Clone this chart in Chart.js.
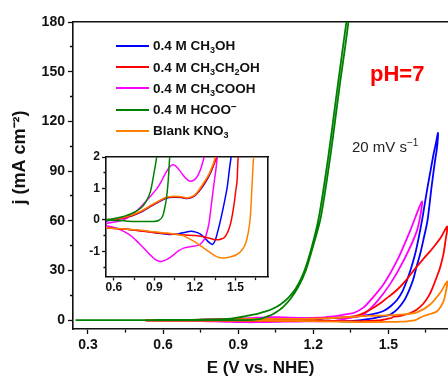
<!DOCTYPE html>
<html>
<head>
<meta charset="utf-8">
<title>CV at pH 7</title>
<script src="https://cdn.jsdelivr.net/npm/chart.js@4.4.1/dist/chart.umd.min.js"></script>
<style>
  html, body { margin: 0; padding: 0; background: #fff; overflow: hidden; }
  body { font-family: "Liberation Sans", Arial, sans-serif; }
  #wrap { position: relative; width: 448px; height: 377px; }
  #main { position: absolute; left: 0; top: 0; }
  #inset { position: absolute; left: 80px; top: 148px; }
  #legend { position: absolute; left: 116px; top: 35.4px; font-size: 13.5px; font-weight: bold; color: #111; }
  #legend .row { height: 21.2px; display: flex; align-items: center; white-space: nowrap; }
  #legend .swatch { width: 33px; height: 2px; margin-right: 4px; }
  #legend sub { font-size: 9px; line-height: 0; vertical-align: -3px; }
  #legend sup { font-size: 10px; line-height: 0; vertical-align: 4px; }
  #ph { position: absolute; left: 370px; top: 62.6px; font-size: 22px; line-height: 22px; font-weight: bold; color: #ff0000; }
  #rate { position: absolute; left: 352px; top: 139.4px; font-size: 15px; line-height: 15px; color: #222; }
  #rate sup { font-size: 10px; line-height: 0; vertical-align: 6px; }
</style>
</head>
<body>
<div id="wrap">
  <canvas id="main" width="448" height="377"></canvas>
  <canvas id="inset" width="195" height="150"></canvas>
  <div id="legend"></div>
  <div id="ph">pH=7</div>
  <div id="rate">20 mV s<sup>&minus;1</sup></div>
</div>
<script>
// potential E (V vs. NHE) and current density j (mA cm-2) read off the CVs,
// forward sweep up to the vertex first, then the return sweep

// 0.4 M CH3OH
const meohE = [0.53, 0.60, 0.67, 0.74, 0.80, 0.86, 0.926, 0.987, 1.048, 1.10, 1.146, 1.20, 1.243, 1.275, 1.304, 1.33, 1.355, 1.38, 1.416, 1.45, 1.482, 1.51, 1.535, 1.555, 1.574, 1.59, 1.607, 1.62, 1.634, 1.645, 1.656, 1.668, 1.68, 1.69, 1.698,
  1.694, 1.686, 1.672, 1.656, 1.642, 1.627, 1.612, 1.598, 1.58, 1.561, 1.535, 1.508, 1.49, 1.468, 1.455, 1.439, 1.415, 1.39, 1.37, 1.35, 1.33, 1.30, 1.268, 1.24, 1.20, 1.17, 1.13, 1.08, 1.0, 0.93, 0.85, 0.75, 0.65, 0.53];
const meohJ = [-0.04, 0.0, 0.05, 0.14, 0.25, 0.40, 0.56, 0.69, 0.72, 0.71, 0.68, 0.77, 0.98, 1.18, 1.4, 1.65, 2.0, 2.3, 2.9, 4.0, 5.6, 8.5, 12.3, 17, 24, 31, 40, 49, 60, 70, 80, 90, 100, 107, 113,
  104, 96, 80, 60, 50, 40, 32, 24, 17, 11.3, 6.5, 3.4, 2.6, 2.0, 1.6, 1.04, 0.5, 0.0, -0.35, -0.65, -0.78, -0.7, -0.55, -0.45, -0.38, -0.36, -0.39, -0.44, -0.46, -0.42, -0.37, -0.32, -0.28, -0.25];

// 0.4 M CH3CH2OH
const etohE = [0.53, 0.60, 0.67, 0.74, 0.80, 0.86, 0.926, 0.987, 1.048, 1.10, 1.146, 1.20, 1.243, 1.275, 1.304, 1.33, 1.36, 1.39, 1.43, 1.469, 1.50, 1.535, 1.57, 1.601, 1.64, 1.68, 1.71, 1.735,
  1.728, 1.72, 1.705, 1.693, 1.675, 1.66, 1.64, 1.614, 1.58, 1.548, 1.53, 1.52, 1.512, 1.50, 1.487, 1.47, 1.455, 1.439, 1.42, 1.40, 1.375, 1.34, 1.28, 1.2, 1.1, 1.0, 0.9, 0.8, 0.7, 0.6, 0.53];
const etohJ = [-0.02, 0.01, 0.06, 0.15, 0.26, 0.41, 0.57, 0.70, 0.73, 0.72, 0.69, 0.78, 1.0, 1.2, 1.42, 1.66, 2.0, 3.4, 6.5, 10.3, 14, 18.3, 24, 30, 37, 44, 50, 56.5,
  48, 40, 31, 26, 19, 14.3, 10, 6.4, 3.8, 2.6, 2.2, 2.0, 1.25, 0.85, 0.42, 0.0, -0.25, -0.42, -0.55, -0.6, -0.63, -0.62, -0.55, -0.5, -0.47, -0.44, -0.4, -0.35, -0.3, -0.27, -0.25];

// 0.4 M CH3COOH
const acohE = [0.53, 0.60, 0.67, 0.73, 0.80, 0.87, 0.926, 0.96, 0.987, 1.012, 1.036, 1.06, 1.09, 1.12, 1.15, 1.17, 1.195, 1.22, 1.245, 1.268, 1.29, 1.31, 1.34, 1.363, 1.40, 1.43, 1.482, 1.535, 1.587, 1.634,
  1.614, 1.561, 1.508, 1.455, 1.403, 1.385, 1.375, 1.366, 1.355, 1.341, 1.322, 1.304, 1.285, 1.268, 1.245, 1.22, 1.17, 1.121, 1.08, 1.048, 1.0, 0.951, 0.91, 0.87, 0.83, 0.78, 0.73, 0.68, 0.64, 0.58, 0.53];
const acohJ = [-0.12, -0.07, 0.0, 0.15, 0.42, 0.75, 1.04, 1.3, 1.52, 1.68, 1.75, 1.70, 1.55, 1.38, 1.26, 1.23, 1.27, 1.4, 1.65, 2.0, 2.4, 2.9, 3.7, 4.4, 7.5, 12.3, 22, 36, 54, 71.6,
  54, 36, 22, 11.3, 3.4, 2.6, 2.2, 2.0, 1.6, 1.15, 0.5, -0.1, -0.45, -0.625, -0.75, -0.81, -0.85, -0.89, -0.98, -1.09, -1.24, -1.32, -1.27, -1.12, -0.94, -0.72, -0.52, -0.38, -0.3, -0.22, -0.17];

// 0.4 M HCOO-
const formateE = [0.25, 0.45, 0.55, 0.62, 0.68, 0.74, 0.80, 0.84, 0.87, 0.895, 0.917, 0.95, 0.98, 1.01, 1.04, 1.07, 1.10, 1.13, 1.16, 1.19, 1.222, 1.262, 1.297, 1.333, 1.35,
  1.341, 1.305, 1.27, 1.23, 1.198, 1.17, 1.14, 1.11, 1.08, 1.05, 1.03, 1.013, 1.003, 0.99, 0.975, 0.959, 0.93, 0.895, 0.80, 0.70, 0.55, 0.25];
const formateJ = [0, 0, 0.01, 0.06, 0.12, 0.22, 0.38, 0.6, 0.9, 1.45, 2.0, 3.0, 3.9, 5.2, 7.0, 9.6, 13.4, 19, 28, 42, 62, 101, 141, 181, 200,
  181, 141, 101, 62, 44, 30, 20, 13, 8, 4.6, 2.9, 2.0, 1.3, 0.72, 0.35, 0.1, -0.02, -0.05, -0.05, -0.04, 0, 0];

// Blank KNO3
const blankE = [0.53, 0.60, 0.67, 0.74, 0.80, 0.86, 0.926, 0.987, 1.048, 1.10, 1.146, 1.20, 1.243, 1.275, 1.304, 1.33, 1.353, 1.38, 1.42, 1.47, 1.52, 1.56, 1.614, 1.667, 1.706, 1.735,
  1.728, 1.72, 1.706, 1.693, 1.67, 1.65, 1.634, 1.622, 1.61, 1.595, 1.575, 1.55, 1.51, 1.46, 1.40, 1.36, 1.30, 1.25, 1.20, 1.15, 1.10, 1.0, 0.9, 0.8, 0.7, 0.6, 0.53];
const blankJ = [0.0, 0.03, 0.08, 0.17, 0.28, 0.43, 0.59, 0.72, 0.75, 0.74, 0.70, 0.80, 1.04, 1.25, 1.46, 1.72, 2.0, 2.25, 2.5, 2.7, 3.0, 3.4, 4.6, 9.4, 16.3, 23.3,
  16, 11.3, 7.5, 5.2, 3.8, 2.9, 2.0, 1.04, 0.1, -0.4, -0.75, -0.95, -1.1, -1.18, -1.21, -1.17, -1.0, -0.85, -0.7, -0.58, -0.48, -0.42, -0.38, -0.33, -0.3, -0.27, -0.25];

const seriesE = [meohE, etohE, acohE, formateE, blankE];
const seriesJ = [meohJ, etohJ, acohJ, formateJ, blankJ];
const seriesLabels = [
  '0.4 M CH<sub>3</sub>OH',
  '0.4 M CH<sub>3</sub>CH<sub>2</sub>OH',
  '0.4 M CH<sub>3</sub>COOH',
  '0.4 M HCOO<sup>&minus;</sup>',
  'Blank KNO<sub>3</sub>'
];
const seriesColors = ['#0000ff', '#ff0000', '#ff00ff', '#008000', '#ff8000'];
const drawOrder = [4, 2, 3, 0, 1]; // lower = drawn on top

const mainETicks = [0.3, 0.45, 0.6, 0.75, 0.9, 1.05, 1.2, 1.35, 1.5, 1.65];
const mainETickLabels = ['0.3', '', '0.6', '', '0.9', '', '1.2', '', '1.5', ''];
const mainJTicks = [0, 15, 30, 45, 60, 75, 90, 105, 120, 135, 150, 165, 180];
const mainJTickLabels = ['0', '', '30', '', '60', '', '90', '', '120', '', '150', '', '180'];
const insetETicks = [0.6, 0.75, 0.9, 1.05, 1.2, 1.35, 1.5, 1.65];
const insetETickLabels = ['0.6', '', '0.9', '', '1.2', '', '1.5', ''];
const insetJTicks = [-1.5, -1, -0.5, 0, 0.5, 1, 1.5, 2];
const insetJTickLabels = ['', '-1', '', '0', '', '1', '', '2'];

const ink = '#111';
Chart.defaults.font.family = '"Liberation Sans", Arial, sans-serif';
Chart.defaults.color = ink;

function makeDatasets(width) {
  return seriesE.map((es, i) => ({
    label: seriesLabels[i].replace(/<[^>]+>/g, ''),
    data: es.map((e, k) => ({ x: e, y: seriesJ[i][k] })),
    borderColor: seriesColors[i],
    backgroundColor: seriesColors[i],
    borderWidth: width,
    showLine: true,
    pointRadius: 0,
    tension: 0.3,
    order: drawOrder[i]
  }));
}

// linear axis with fixed major/minor ticks; minor ticks drawn shorter via a dash
function tickAxis(min, max, values, labels, fontSize, tickLen, pad, minorDash) {
  return {
    type: 'linear',
    min: min,
    max: max,
    afterBuildTicks: axis => { axis.ticks = values.map(v => ({ value: v })); },
    ticks: {
      autoSkip: false,
      maxRotation: 0,
      padding: pad,
      color: ink,
      font: { size: fontSize, weight: 'bold', lineHeight: 1 },
      callback: (v, i) => labels[i]
    },
    grid: {
      drawOnChartArea: false,
      drawTicks: true,
      tickLength: tickLen,
      tickColor: ink,
      tickWidth: 1.3,
      tickBorderDash: ctx => (labels[ctx.index] ? [] : minorDash)
    },
    border: { display: true, color: ink, width: 1.6 }
  };
}

function frameAxis(position) {
  return {
    type: 'linear',
    position: position,
    ticks: { display: false },
    grid: { display: false, drawTicks: false },
    border: { display: true, color: ink, width: 1.6 }
  };
}

const mainX = tickAxis(0.24, 1.738, mainETicks, mainETickLabels, 14, 5, 4, [3, 20]);
mainX.title = { display: true, text: 'E (V vs. NHE)', color: ink, font: { size: 17, weight: 'bold', lineHeight: 1 }, padding: { top: 4, bottom: 0 } };
const mainY = tickAxis(-5.4, 180, mainJTicks, mainJTickLabels, 14, 5, 3, [0, 2, 3, 20]);
// leading en-spaces nudge the rotated title up along the axis
mainY.title = { display: true, text: '\u2002\u2002\u2002\u2002j (mA cm\u207B\u00B2)', color: ink, font: { size: 18, weight: 'bold', lineHeight: 1 }, padding: { top: 11, bottom: 9.6 } };

new Chart(document.getElementById('main'), {
  type: 'scatter',
  data: { datasets: makeDatasets(1.8) },
  options: {
    responsive: false,
    animation: false,
    events: [],
    layout: { padding: { left: 0, top: 22, right: 0, bottom: 0 } },
    plugins: { legend: { display: false }, tooltip: { enabled: false } },
    scales: { x: mainX, y: mainY, xTop: frameAxis('top') }
  }
});

new Chart(document.getElementById('inset'), {
  type: 'scatter',
  data: { datasets: makeDatasets(1.5) },
  options: {
    responsive: false,
    animation: false,
    events: [],
    layout: { padding: { left: 7.3, top: 9, right: 7, bottom: 3.5 } },
    plugins: { legend: { display: false }, tooltip: { enabled: false } },
    scales: {
      x: tickAxis(0.541, 1.741, insetETicks, insetETickLabels, 12, 4, 1, [2.5, 20]),
      y: tickAxis(-1.8, 2, insetJTicks, insetJTickLabels, 12, 4, 2, [0, 1.5, 2.5, 20]),
      xTop: frameAxis('top'),
      yRight: frameAxis('right')
    }
  }
});

// legend rows built from the series
const legend = document.getElementById('legend');
seriesLabels.forEach((lab, i) => {
  const row = document.createElement('div');
  row.className = 'row';
  row.innerHTML = '<span class="swatch" style="background:' + seriesColors[i] + '"></span><span>' + lab + '</span>';
  legend.appendChild(row);
});
</script>
</body>
</html>
